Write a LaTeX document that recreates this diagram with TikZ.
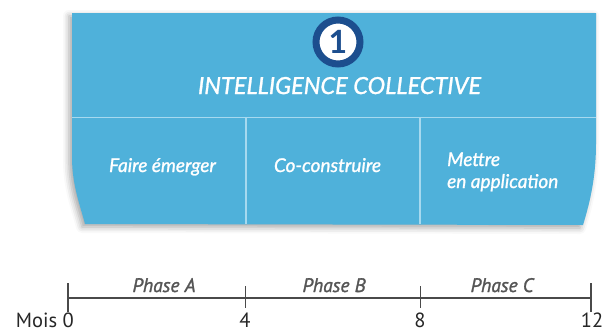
\documentclass[tikz,border=0pt]{standalone}
\usepackage{fontspec}
\setmainfont{PT Sans}
\newfontfamily\lato{Lato}[FakeBold=1.2]
\newfontfamily\latobf{Lato}
\newfontfamily\ptsb{PT Sans}[FakeBold=1.5]
\usetikzlibrary{shadows.blur}
\definecolor{boxblue}{HTML}{4FB1DA}
\definecolor{divline}{HTML}{A6D9EF}
\definecolor{navy}{HTML}{1C4E8E}
\definecolor{axis}{HTML}{4A4A4A}
\definecolor{phasegray}{HTML}{555555}
\tikzset{
  boxtext/.style={text=white, font=\lato\itshape\fontsize{19}{22}\selectfont, inner sep=0pt, anchor=base},
  divider/.style={draw=divline, line width=1.4pt},
  axisline/.style={draw=axis, line width=1.4pt},
  ticklabel/.style={text=black!85, font=\fontsize{20.5}{20.5}\selectfont, anchor=base, inner sep=0pt},
  phaselabel/.style={text=phasegray, font=\ptsb\itshape\fontsize{19.5}{19.5}\selectfont, anchor=base, inner sep=0pt}
}
\begin{document}
\begin{tikzpicture}[x=1pt,y=-1pt]
\useasboundingbox (0,0) rectangle (605,332);
% main box
\fill[boxblue, blur shadow={shadow xshift=-3pt, shadow yshift=-3pt, shadow blur radius=6pt, shadow opacity=35}]
  (72,13) -- (596,13) -- (596,143) .. controls (596,180) and (589,205) .. (583,225)
  -- (85,224) .. controls (80,205) and (72,185) .. (72,157) -- cycle;
% dividers
\draw[divider] (72,117.5) -- (596,117.5);
\draw[divider] (246,117.5) -- (246,224);
\draw[divider] (420,117.5) -- (420,224);
% number badge
\node[circle, fill=white, draw=navy, line width=7pt, minimum size=44pt, inner sep=0pt,
      text=navy, font=\latobf\bfseries\fontsize{32}{32}\selectfont] (num) at (338,42) {1};
% title
\node[text=white, font=\lato\itshape\fontsize{23.5}{26}\selectfont, inner sep=0pt, anchor=base] (title) at (339.5,94) {INTELLIGENCE COLLECTIVE};
% sub labels
\node[boxtext] (fe) at (162.5,172) {Faire émerger};
\node[boxtext] (cc) at (327.5,172) {Co-construire};
\node[boxtext, anchor=base west, align=left] (ma) at (447,188) {Mettre\\en application};
% timeline
\coordinate (t0) at (68,298);
\coordinate (t4) at (245,298);
\coordinate (t8) at (420,298);
\coordinate (t12) at (591,298);
\draw[axisline] (t0) -- (t12);
\draw[axisline] ([yshift=15pt]t0) -- ([yshift=-14pt]t0);
\draw[axisline] ([yshift=15pt]t12) -- ([yshift=-14pt]t12);
\draw[axisline, line width=0.9pt] ([yshift=12pt]t4) -- ([yshift=-10pt]t4);
\draw[axisline, line width=0.9pt] ([yshift=12pt]t8) -- ([yshift=-10pt]t8);
\node[ticklabel, anchor=base east] (l0) at (74,327.5) {Mois 0};
\node[ticklabel] (l4) at (245,327.5) {4};
\node[ticklabel] (l8) at (420,327.5) {8};
\node[ticklabel] (l12) at (592,327.5) {12};
\node[phaselabel] (pa) at (164,292) {Phase A};
\node[phaselabel] (pb) at (334,292) {Phase B};
\node[phaselabel] (pc) at (502,292) {Phase C};
\end{tikzpicture}
\end{document}
